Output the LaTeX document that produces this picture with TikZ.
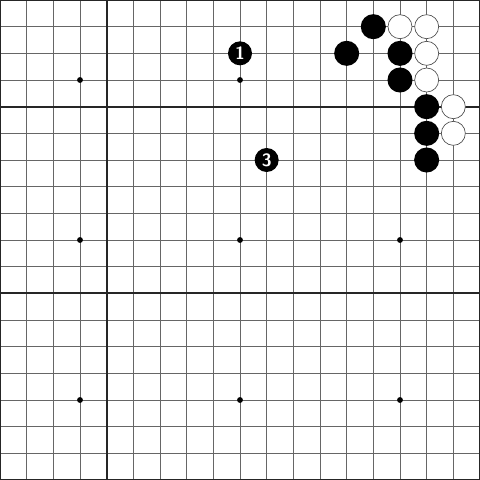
\documentclass[tikz,border=0pt]{standalone}
\usepackage{tikz}
\usetikzlibrary{positioning}

\begin{document}
\begin{tikzpicture}[x=1cm,y=-1cm,
              gridline/.style={draw=black!60,line width=1pt},
              heavyline/.style={draw=black!85,line width=2pt},
              hoshi/.style={circle,fill=black,inner sep=0pt,minimum size=0.22cm},
              blackstone/.style={circle,fill=black,inner sep=0pt,minimum size=0.94cm},
              whitestone/.style={circle,draw=black!70,line width=0.7pt,fill=white,inner sep=0pt,minimum size=0.9cm},
              movestone/.style={circle,fill=black,text=white,inner sep=0pt,minimum size=0.9cm,
                font=\sffamily\bfseries\fontsize{19}{19}\selectfont}]
  \useasboundingbox (0,0) rectangle (18,18);
  % board lines
  \foreach \i in {1,...,17} {
    \draw[gridline] (\i,0) -- (\i,18);
    \draw[gridline] (0,\i) -- (18,\i);
  }
  \draw[heavyline] (4,0) -- (4,18);
  \draw[heavyline] (0,4) -- (18,4);
  \draw[heavyline] (0,11) -- (18,11);
  \draw[heavyline,line width=2.5pt] (0,0) rectangle (18,18);
  % star points
  \foreach \c in {3,9,15}
    \foreach \r in {3,9,15}
      \node[hoshi] (star-\c-\r) at (\c,\r) {};
  % stones
  \foreach \c/\r in {14/1,13/2,15/2,15/3,16/4,16/5,16/6}
    \node[blackstone] (b-\c-\r) at (\c,\r) {};
  \foreach \c/\r in {15/1,16/1,16/2,16/3,17/4,17/5}
    \node[whitestone] (w-\c-\r) at (\c,\r) {};
  \node[movestone] (move1) at (9,2) {1};
  \node[movestone] (move3) at (10,6) {3};
\end{tikzpicture}
\end{document}
